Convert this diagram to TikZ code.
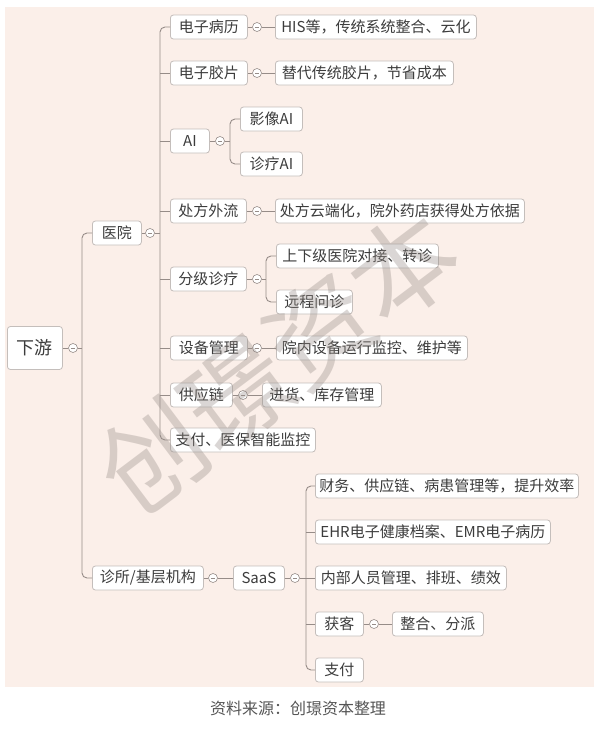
\documentclass[tikz,border=0pt]{standalone}
\usepackage{fontspec}
\setmainfont{Noto Sans CJK SC}
\usetikzlibrary{calc}
\definecolor{bgc}{RGB}{251,239,233}
\definecolor{boxc}{RGB}{196,190,187}
\definecolor{linec}{RGB}{150,140,136}
\definecolor{txtc}{RGB}{60,60,60}
\definecolor{wmc}{RGB}{150,140,135}
\definecolor{capc}{RGB}{85,85,85}
\begin{document}
\begin{tikzpicture}[x=1pt,y=-1pt,
 box/.style={draw=boxc, fill=white, rounded corners=3pt, line width=0.8pt, minimum height=24pt, inner xsep=0pt, inner ysep=0pt, font=\fontsize{15}{17}\selectfont, text=txtc, anchor=west},
 tog/.style={circle, draw=linec, fill=white, line width=0.6pt, minimum size=9pt, inner sep=0pt, path picture={\draw[linec,line width=0.6pt] ($(path picture bounding box.center)+(-2.2pt,0)$) -- ++(4.4pt,0);}},
 conn/.style={draw=linec, line width=0.9pt},
 bus/.style={conn, rounded corners=5pt}]
\useasboundingbox (0,0) rectangle (600,732);
\fill[white] (0,0) rectangle (600,732);
\fill[bgc] (5,7) rectangle (594,687);

% level 0
\node[box, minimum width=55pt, minimum height=43pt, font=\fontsize{18}{20}\selectfont] (xy) at (7,348) {下游};
\node[tog] (c0) at (73,348) {};
\coordinate (b0) at (82,348);

% level 1
\node[box, minimum width=49pt] (yy) at (92,233) {医院};
\node[tog] (c1) at (150,233) {};
\coordinate (b1) at (160,233);
\node[box, minimum width=111pt] (zs) at (92,578) {诊所/基层机构};
\node[tog] (c2) at (213,578) {};

% hospital children
\node[box, minimum width=77pt] (dzbl) at (170,27) {电子病历};
\node[tog] (cdzbl) at (257,27) {};
\node[box, minimum width=201pt] (his) at (275,27) {HIS等，传统系统整合、云化};

\node[box, minimum width=77pt] (dzjp) at (170,73) {电子胶片};
\node[tog] (cdzjp) at (257,73) {};
\node[box, minimum width=178pt] (td) at (275,73) {替代传统胶片，节省成本};

\node[box, minimum width=39pt] (ai) at (170,141) {AI};
\node[tog] (cai) at (220,141) {};
\coordinate (bai) at (230,141);
\node[box, minimum width=62pt] (yxai) at (240,119) {影像AI};
\node[box, minimum width=62pt] (zlai) at (240,164) {诊疗AI};

\node[box, minimum width=76pt] (cfwl) at (170,211) {处方外流};
\node[tog] (ccfwl) at (257,211) {};
\node[box, minimum width=249pt] (cfy) at (275,211) {处方云端化，院外药店获得处方依据};

\node[box, minimum width=76pt] (fjzl) at (170,279) {分级诊疗};
\node[tog] (cfjzl) at (257,279) {};
\coordinate (bfj) at (266,279);
\node[box, minimum width=162pt] (sxj) at (276,256) {上下级医院对接、转诊};
\node[box, minimum width=76pt] (ycwz) at (276,302) {远程问诊};

\node[box, minimum width=77pt] (sbgl) at (170,348) {设备管理};
\node[tog] (csbgl) at (257,348) {};
\node[box, minimum width=191pt] (ynsb) at (276,348) {院内设备运行监控、维护等};

\node[box, minimum width=62pt] (gyl) at (170,395) {供应链};
\node[tog] (cgyl) at (243,395) {};
\node[box, minimum width=119pt] (jh) at (262,395) {进货、库存管理};

\node[box, minimum width=145pt] (zfyb) at (170,440) {支付、医保智能监控};

% clinic branch
\node[box, minimum width=51pt] (saas) at (233,578) {SaaS};
\node[tog] (csaas) at (295,578) {};
\coordinate (bs) at (306,578);
\node[box, minimum width=263pt] (cw) at (315,486) {财务、供应链、病患管理等，提升效率};
\node[box, minimum width=235pt] (ehr) at (315,532) {EHR电子健康档案、EMR电子病历};
\node[box, minimum width=191pt] (nb) at (315,578) {内部人员管理、排班、绩效};
\node[box, minimum width=48pt] (hk) at (315,624) {获客};
\node[tog] (chk) at (374,624) {};
\node[box, minimum width=91pt] (zh) at (392,624) {整合、分派};
\node[box, minimum width=48pt] (zf) at (315,670) {支付};

% connectors
\begin{scope}[on background layer/.style={}]
\draw[conn] (xy) -- (c0);
\draw[conn] (c0) -- (b0);
\draw[bus] (yy.west) -| (b0) |- (zs.west);

\draw[conn] (yy) -- (c1);
\draw[conn] (c1) -- (b1);
\draw[bus] (dzbl.west) -| (b1) |- (zfyb.west);
\foreach \n in {dzjp,ai,cfwl,fjzl,sbgl,gyl} \draw[conn] (b1 |- \n.west) -- (\n.west);

\draw[conn] (dzbl) -- (cdzbl); \draw[conn] (cdzbl) -- (his);
\draw[conn] (dzjp) -- (cdzjp); \draw[conn] (cdzjp) -- (td);
\draw[conn] (ai) -- (cai); \draw[conn] (cai) -- (bai);
\draw[bus] (yxai.west) -| (bai) |- (zlai.west);
\draw[conn] (cfwl) -- (ccfwl); \draw[conn] (ccfwl) -- (cfy);
\draw[conn] (fjzl) -- (cfjzl); \draw[conn] (cfjzl) -- (bfj);
\draw[bus] (sxj.west) -| (bfj) |- (ycwz.west);
\draw[conn] (sbgl) -- (csbgl); \draw[conn] (csbgl) -- (ynsb);
\draw[conn] (gyl) -- (cgyl); \draw[conn] (cgyl) -- (jh);

\draw[conn] (zs) -- (c2); \draw[conn] (c2) -- (saas);
\draw[conn] (saas) -- (csaas); \draw[conn] (csaas) -- (bs);
\draw[bus] (cw.west) -| (bs) |- (zf.west);
\foreach \n in {ehr,nb,hk} \draw[conn] (bs |- \n.west) -- (\n.west);
\draw[conn] (hk) -- (chk); \draw[conn] (chk) -- (zh);
\end{scope}

% watermark
\node[text=wmc, opacity=0.35, rotate=37, font=\fontsize{105}{110}\selectfont] (wm) at (278,362) {创璟资本};

% caption
\node[text=capc, font=\fontsize{16}{18}\selectfont] (cap) at (298,708) {资料来源：创璟资本整理};
\end{tikzpicture}
\end{document}
